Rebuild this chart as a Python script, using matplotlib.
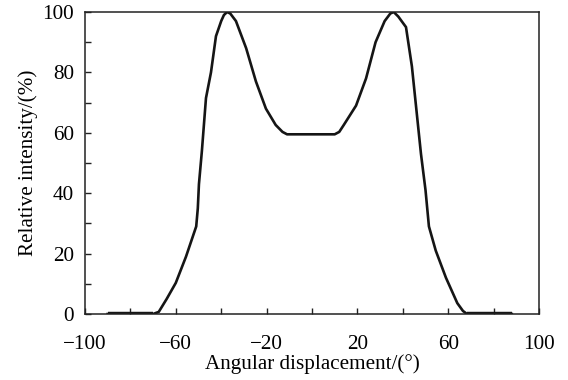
import numpy as np
import matplotlib
matplotlib.use('Agg')
import matplotlib.pyplot as plt
from matplotlib.ticker import FixedLocator

# Data
angle = [-90, -70, -67.5, -64, -60, -55.5, -51, -50.3, -49.8, -48.5, -46.7, -44.5, -42.3,
         -40, -38.8, -37.4, -36, -33.5, -29, -24.7, -20.3, -16, -13, -11, 10, 12, 14, 19.4,
         23.8, 28, 32, 34.5, 36, 38, 41.4, 44, 48, 50, 51.5, 54.5, 59, 64, 66.5, 68.3, 88]
intensity = [0, 0, 0.7, 5, 10.3, 19, 29, 35, 43, 54, 71.5, 80, 92,
             97, 99, 100, 99.5, 97, 88, 77, 68, 62.6, 60.3, 59.5, 59.5, 60.3, 62.6, 69,
             78, 90, 97, 99.5, 100, 98.5, 95, 82, 53, 41, 29, 21, 12, 3.6, 1, 0, 0]

x_major = [-100, -60, -20, 20, 60, 100]
x_minor = [-80, -40, 0, 40, 80]
y_major = [0, 20, 40, 60, 80, 100]
y_minor = [10, 30, 50, 70, 90]

plt.rcParams['font.family'] = 'Liberation Serif'
plt.rcParams['font.size'] = 15.2

fig = plt.figure(figsize=(5.68, 3.80), dpi=100)
ax = fig.add_axes([0.1496, 0.1737, 0.949 - 0.1496, 0.9684 - 0.1737])

ax.plot(angle, intensity, color='#151515', lw=1.9, solid_joinstyle='round')
# flat baseline parts look heavier in the original
ax.plot(angle[:2], intensity[:2], color='#151515', lw=3.2, solid_capstyle='butt')
ax.plot(angle[-2:], intensity[-2:], color='#151515', lw=3.2, solid_capstyle='butt')

ax.set_xlim(-100, 100)
ax.set_ylim(0, 100)
ax.xaxis.set_major_locator(FixedLocator(x_major))
ax.xaxis.set_minor_locator(FixedLocator(x_minor))
ax.yaxis.set_major_locator(FixedLocator(y_major))
ax.yaxis.set_minor_locator(FixedLocator(y_minor))
ax.set_xticklabels(['\u2212100', '\u221260', '\u221220', '20', '60', '100'])

for s in ax.spines.values():
    s.set_linewidth(1.1)
    s.set_color('#222222')
ax.tick_params(axis='both', which='both', direction='in', length=4.5, width=1.0,
               color='#222222')
ax.tick_params(axis='x', which='both', pad=15)
ax.tick_params(axis='y', which='both', pad=8)

ax.set_xlabel('Angular displacement/(\u00b0)')
ax.xaxis.set_label_coords(0.5, -0.132)
ax.set_ylabel('Relative intensity/(%)', labelpad=3)

fig.savefig('out.png', dpi=100)
